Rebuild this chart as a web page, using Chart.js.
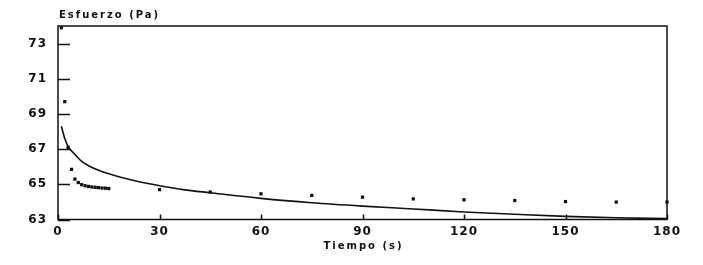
<!DOCTYPE html>
<html>
<head>
<meta charset="utf-8">
<script src="https://cdn.jsdelivr.net/npm/chart.js@4/dist/chart.umd.min.js"></script>
<style>
html,body{margin:0;padding:0;background:#fff;}
#wrap{width:703px;height:265px;}
</style>
</head>
<body>
<div id="wrap"><canvas id="c" width="703" height="265"></canvas></div>
<script>
// Fitted model curve
const curveT = [1, 2, 3, 5, 7, 9, 12, 15, 20, 25, 30, 37, 45, 60, 75, 90, 105, 120, 135, 150, 165, 180];
const curveV = [68.3, 67.6, 67.15, 66.7, 66.3, 66.06, 65.8, 65.6, 65.33, 65.1, 64.92, 64.7, 64.52, 64.2, 63.95, 63.76, 63.6, 63.43, 63.3, 63.18, 63.1, 63.05];
// Measured points
const measT = [1, 2, 3, 4, 5, 6, 7, 8, 9, 10, 11, 12, 13, 14, 15, 30, 45, 60, 75, 90, 105, 120, 135, 150, 165, 180];
const measV = [73.9, 69.7, 67.1, 65.85, 65.3, 65.1, 64.98, 64.92, 64.88, 64.85, 64.83, 64.81, 64.79, 64.78, 64.76, 64.7, 64.56, 64.46, 64.37, 64.27, 64.17, 64.12, 64.08, 64.02, 63.99, 63.99];
// Tick labels
const xTicks = [0, 30, 60, 90, 120, 150, 180];
const yTicks = [63, 65, 67, 69, 71, 73];
const yTitle = 'Esfuerzo (Pa)';
const xTitle = 'Tiempo (s)';

const INK = '#111';
const FONT = 'DejaVu Sans';

const framePlugin = {
  id: 'frame',
  beforeDraw(chart) {
    chart.ctx.letterSpacing = '1px';
  },
  afterDraw(chart) {
    const ctx = chart.ctx, a = chart.chartArea;
    const xs = chart.scales.x, ys = chart.scales.y;
    ctx.save();
    ctx.strokeStyle = INK;
    ctx.lineWidth = 1.5;
    ctx.strokeRect(a.left, a.top, a.right - a.left, a.bottom - a.top);
    ctx.beginPath();
    yTicks.forEach(v => {
      const y = Math.round(ys.getPixelForValue(v)) + 0.5;
      ctx.moveTo(a.left, y); ctx.lineTo(a.left + 12, y);
    });
    xTicks.forEach(v => {
      const x = Math.round(xs.getPixelForValue(v)) + 0.5;
      ctx.moveTo(x, a.bottom); ctx.lineTo(x, a.bottom - 5);
    });
    ctx.stroke();
    ctx.fillStyle = INK;
    ctx.letterSpacing = '2px';
    ctx.font = 'bold 10px "' + FONT + '"';
    ctx.textBaseline = 'middle';
    ctx.textAlign = 'left';
    ctx.fillText(yTitle, a.left + 1, 15);
    ctx.textAlign = 'center';
    ctx.fillText(xTitle, (a.left + a.right) / 2 + 1, 246);
    ctx.restore();
  }
};

new Chart(document.getElementById('c'), {
  type: 'scatter',
  data: {
    datasets: [
      {
        label: 'modelo',
        data: curveT.map((t, i) => ({x: t, y: curveV[i]})),
        showLine: true,
        borderColor: INK,
        borderWidth: 1.6,
        pointRadius: 0,
        cubicInterpolationMode: 'monotone',
        clip: false
      },
      {
        label: 'medido',
        data: measT.map((t, i) => ({x: t, y: measV[i]})),
        showLine: false,
        pointStyle: 'rect',
        pointRadius: 2.3,
        backgroundColor: INK,
        borderColor: INK,
        borderWidth: 0,
        clip: false
      }
    ]
  },
  options: {
    responsive: false,
    animation: false,
    devicePixelRatio: 1,
    layout: {padding: {left: 0, top: 26, right: 36, bottom: 0}},
    plugins: {legend: {display: false}, tooltip: {enabled: false}},
    scales: {
      x: {
        type: 'linear',
        min: 0, max: 180,
        afterBuildTicks: s => { s.ticks = xTicks.map(v => ({value: v})); },
        afterFit: s => { s.height = 45.5; },
        grid: {display: false, drawTicks: false},
        border: {display: false},
        ticks: {color: INK, padding: 5, maxRotation: 0, autoSkip: false,
                font: {family: FONT, size: 12, weight: 'bold'}}
      },
      y: {
        type: 'linear',
        min: 63, max: 74,
        afterBuildTicks: s => { s.ticks = yTicks.map(v => ({value: v})); },
        afterFit: s => { s.width = 58; },
        grid: {display: false, drawTicks: false},
        border: {display: false},
        ticks: {color: INK, padding: 11, autoSkip: false,
                font: {family: FONT, size: 12, weight: 'bold'}}
      }
    }
  },
  plugins: [framePlugin]
});
</script>
</body>
</html>
